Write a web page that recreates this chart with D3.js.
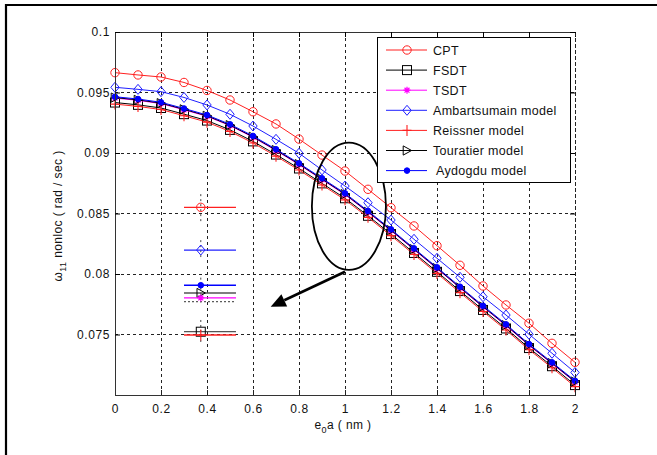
<!DOCTYPE html>
<meta charset="utf-8">
<style>
  body { margin: 0; background: white; }
  svg text { font-family: "Liberation Sans", Arial, sans-serif; fill: #111; }
</style>
<body>
<div id="chart"></div>
<script src="https://d3js.org/d3.v7.min.js"></script>
<script>
// nonlocal parameter e0a (nm)
const e0a = [0, 0.1, 0.2, 0.3, 0.4, 0.5, 0.6, 0.7, 0.8, 0.9, 1.0,
             1.1, 1.2, 1.3, 1.4, 1.5, 1.6, 1.7, 1.8, 1.9, 2.0];

// omega_11 nonloc (rad/sec)
const cpt  = [0.09664, 0.09645, 0.09628, 0.09583, 0.09517, 0.09438, 0.09341, 0.09240, 0.09115, 0.08983, 0.08851,
              0.08700, 0.08548, 0.08397, 0.08234, 0.08072, 0.07901, 0.07744, 0.07593, 0.07427, 0.07270];
const fsdt = [0.09417, 0.09398, 0.09372, 0.09321, 0.09268, 0.09191, 0.09096, 0.08987, 0.08872, 0.08749, 0.08626,
              0.08481, 0.08330, 0.08174, 0.08018, 0.07859, 0.07703, 0.07550, 0.07388, 0.07238, 0.07082];
const tsdt = [0.09454, 0.09435, 0.09408, 0.09357, 0.09303, 0.09226, 0.09130, 0.09020, 0.08904, 0.08780, 0.08656,
              0.08510, 0.08358, 0.08201, 0.08044, 0.07884, 0.07727, 0.07573, 0.07410, 0.07259, 0.07107];
const amb  = [0.09543, 0.09526, 0.09507, 0.09459, 0.09397, 0.09320, 0.09223, 0.09113, 0.08998, 0.08860, 0.08727,
              0.08589, 0.08446, 0.08287, 0.08130, 0.07973, 0.07812, 0.07661, 0.07502, 0.07345, 0.07186];
const reis = [0.09404, 0.09385, 0.09359, 0.09308, 0.09255, 0.09178, 0.09083, 0.08974, 0.08859, 0.08736, 0.08613,
              0.08468, 0.08317, 0.08161, 0.08005, 0.07846, 0.07690, 0.07537, 0.07375, 0.07225, 0.07069];
const tour = [0.09458, 0.09439, 0.09412, 0.09361, 0.09307, 0.09230, 0.09134, 0.09024, 0.08908, 0.08784, 0.08660,
              0.08514, 0.08362, 0.08205, 0.08048, 0.07888, 0.07731, 0.07577, 0.07414, 0.07263, 0.07111];
const ayd  = [0.09465, 0.09446, 0.09419, 0.09368, 0.09314, 0.09237, 0.09141, 0.09031, 0.08915, 0.08791, 0.08667,
              0.08521, 0.08369, 0.08212, 0.08055, 0.07895, 0.07738, 0.07584, 0.07421, 0.07270, 0.07118];

const xTicks = [0, 0.2, 0.4, 0.6, 0.8, 1, 1.2, 1.4, 1.6, 1.8, 2];
const yTicks = [0.075, 0.08, 0.085, 0.09, 0.095, 0.1];
const yGrid = [0.075, 0.08, 0.085, 0.09, 0.095];

// magnified view drawn at the left (schematic levels)
const insetKeys   = ["cpt", "amb", "ayd", "tour", "tsdt", "fsdt", "reis"];
const insetValues = [0.08551, 0.08198, 0.07907, 0.07843, 0.07802, 0.07523, 0.07496];
const insetSpan = [0.3, 0.526];
const insetMarkAt = 0.373;

const width = 657, height = 455;
const svg = d3.select("#chart").append("svg")
    .attr("width", width)
    .attr("height", height);

const x = d3.scaleLinear().domain([0, 2]).range([115, 575]);
const y = d3.scaleLinear().domain([0.07, 0.1]).range([395, 32]);

// outer frame (only left and top edges visible)
svg.append("path")
    .attr("d", `M6,${height} L6,5 L${width},5`)
    .attr("fill", "none")
    .attr("stroke", "#000")
    .attr("stroke-width", 2.2);

// grid
const grid = svg.append("g")
    .attr("stroke", "#222")
    .attr("stroke-dasharray", "3,3")
    .attr("shape-rendering", "crispEdges");
xTicks.filter(d => d > 0).forEach(function(d) {
    grid.append("line")
        .attr("x1", x(d)).attr("x2", x(d))
        .attr("y1", y(0.1)).attr("y2", y(0.07));
});
yGrid.forEach(function(d) {
    grid.append("line")
        .attr("x1", x(0)).attr("x2", x(2))
        .attr("y1", y(d)).attr("y2", y(d));
});

// marker painters
function drawMarker(g, kind, px, py, color) {
    if (kind == "circle") {
        g.append("circle").attr("cx", px).attr("cy", py).attr("r", 4.2)
            .attr("fill", "none").attr("stroke", color);
    } else if (kind == "square") {
        g.append("rect").attr("x", px - 4.5).attr("y", py - 4.5).attr("width", 9).attr("height", 9)
            .attr("fill", "none").attr("stroke", color);
    } else if (kind == "star") {
        const s = 3.5;
        g.append("path")
            .attr("d", `M${px-s},${py}L${px+s},${py}M${px},${py-s}L${px},${py+s}` +
                `M${px-s*0.7},${py-s*0.7}L${px+s*0.7},${py+s*0.7}M${px-s*0.7},${py+s*0.7}L${px+s*0.7},${py-s*0.7}`)
            .attr("stroke", color).attr("stroke-width", 1.2);
    } else if (kind == "diamond") {
        g.append("path")
            .attr("d", `M${px},${py-5}L${px+4.2},${py}L${px},${py+5}L${px-4.2},${py}Z`)
            .attr("fill", "none").attr("stroke", color);
    } else if (kind == "plus") {
        g.append("path")
            .attr("d", `M${px-4.5},${py}L${px+4.5},${py}M${px},${py-5.5}L${px},${py+5.5}`)
            .attr("stroke", color).attr("stroke-width", 1.1);
    } else if (kind == "tri") {
        g.append("path")
            .attr("d", `M${px-3.8},${py-4.6}L${px+4.6},${py}L${px-3.8},${py+4.6}Z`)
            .attr("fill", "none").attr("stroke", color);
    } else if (kind == "dot") {
        g.append("circle").attr("cx", px).attr("cy", py).attr("r", 2.8)
            .attr("fill", color).attr("stroke", color);
    }
}

const series = [
    {key: "cpt",  label: "CPT",                 values: cpt,  color: "#ff2020", marker: "circle"},
    {key: "fsdt", label: "FSDT",                values: fsdt, color: "#000000", marker: "square"},
    {key: "tsdt", label: "TSDT",                values: tsdt, color: "#ff00ff", marker: "star"},
    {key: "amb",  label: "Ambartsumain model",  values: amb,  color: "#2020ff", marker: "diamond"},
    {key: "reis", label: "Reissner model",      values: reis, color: "#ff2020", marker: "plus"},
    {key: "tour", label: "Touratier model",     values: tour, color: "#000000", marker: "tri"},
    {key: "ayd",  label: " Aydogdu model",      values: ayd,  color: "#0000ff", marker: "dot"}
];
const styleOf = {};
series.forEach(s => styleOf[s.key] = s);

const line = d3.line()
    .x(d => x(d[0]))
    .y(d => y(d[1]));

const plot = svg.append("g");
series.forEach(function(s) {
    const pts = e0a.map((v, i) => [v, s.values[i]]);
    plot.append("path")
        .attr("d", line(pts))
        .attr("fill", "none")
        .attr("stroke", s.color)
        .attr("stroke-width", 1);
    pts.forEach(p => drawMarker(plot, s.marker, x(p[0]), y(p[1]), s.color));
});

// magnified levels
const inset = svg.append("g");
const markX = x(insetMarkAt);
[[0.0866, 0.0843], [0.0828, 0.0814], [0.0797, 0.0776], [0.0762, 0.0743]].forEach(function(r) {
    inset.append("line")
        .attr("x1", markX).attr("x2", markX)
        .attr("y1", y(r[0])).attr("y2", y(r[1]))
        .attr("stroke", "#444")
        .attr("stroke-dasharray", "2,3");
});
inset.append("line")
    .attr("x1", x(insetSpan[0])).attr("x2", x(insetSpan[1]))
    .attr("y1", y(0.07771)).attr("y2", y(0.07771))
    .attr("stroke", "#333")
    .attr("stroke-dasharray", "2,2");
insetKeys.forEach(function(k, i) {
    const s = styleOf[k];
    const py = y(insetValues[i]);
    inset.append("line")
        .attr("x1", x(insetSpan[0])).attr("x2", x(insetSpan[1]))
        .attr("y1", py).attr("y2", py)
        .attr("stroke", s.color == "#000000" ? "#555" : s.color)
        .attr("stroke-width", 1.3);
    drawMarker(inset, s.marker, markX, py, s.color);
});

// ellipse and arrow
svg.append("ellipse")
    .attr("cx", x(1.017))
    .attr("cy", y(0.0856))
    .attr("rx", x(0.161) - x(0))
    .attr("ry", y(0.0856 - 0.005264) - y(0.0856))
    .attr("fill", "none")
    .attr("stroke", "#000")
    .attr("stroke-width", 1.8);

const a0 = [x(1.0), y(0.08019)], a1 = [x(0.677), y(0.0773)];
const ang = Math.atan2(a1[1] - a0[1], a1[0] - a0[0]);
const headLen = 15, headW = 6.8;
const bx = a1[0] - headLen * Math.cos(ang), by = a1[1] - headLen * Math.sin(ang);
svg.append("line")
    .attr("x1", a0[0]).attr("y1", a0[1])
    .attr("x2", bx).attr("y2", by)
    .attr("stroke", "#000")
    .attr("stroke-width", 2.6);
svg.append("path")
    .attr("d", `M${a1[0]},${a1[1]}` +
        `L${bx + headW * Math.sin(ang)},${by - headW * Math.cos(ang)}` +
        `L${bx - headW * Math.sin(ang)},${by + headW * Math.cos(ang)}Z`)
    .attr("fill", "#000");

// axes
const fmt = d => String(d);
const axisFont = g => g.selectAll("text")
    .attr("font-size", 12)
    .attr("letter-spacing", 0.6)
    .attr("fill", "#111");

svg.append("g")
    .attr("transform", `translate(0,${y(0.07)})`)
    .call(d3.axisBottom(x).tickValues(xTicks).tickFormat(fmt).tickSize(-5).tickSizeOuter(0).tickPadding(9))
    .call(axisFont)
    .call(g => g.select(".domain").attr("stroke", "#333"))
    .call(g => g.selectAll(".tick line").attr("stroke", "#222"));
svg.append("g")
    .attr("transform", `translate(0,${y(0.1)})`)
    .call(d3.axisTop(x).tickValues(xTicks).tickFormat("").tickSize(-5).tickSizeOuter(0))
    .call(g => g.select(".domain").attr("stroke", "#333"));
svg.append("g")
    .attr("transform", `translate(${x(0)},0)`)
    .call(d3.axisLeft(y).tickValues(yTicks).tickFormat(fmt).tickSize(-5).tickSizeOuter(0).tickPadding(5))
    .call(axisFont)
    .call(g => g.select(".domain").attr("stroke", "#333"));
svg.append("g")
    .attr("transform", `translate(${x(2)},0)`)
    .call(d3.axisRight(y).tickValues(yTicks).tickFormat("").tickSize(-5).tickSizeOuter(0))
    .call(g => g.select(".domain").attr("stroke", "#222").attr("stroke-dasharray", "3,3"));
svg.selectAll(".domain").attr("shape-rendering", "crispEdges");

// axis titles
const xt = svg.append("text")
    .attr("x", 343).attr("y", 429)
    .attr("text-anchor", "middle")
    .attr("font-size", 12)
    .attr("letter-spacing", 0.4);
xt.append("tspan").text("e");
xt.append("tspan").attr("dy", 4).attr("font-size", 9).text("0");
xt.append("tspan").attr("dy", -4).text("a ( nm )");

const yt = svg.append("text")
    .attr("transform", "translate(62,216) rotate(-90)")
    .attr("text-anchor", "middle")
    .attr("font-size", 12)
    .attr("letter-spacing", 0.4);
yt.append("tspan").text("\u03c9");
yt.append("tspan").attr("dy", 4).attr("font-size", 9).text("11");
yt.append("tspan").attr("dy", -4).text(" nonloc ( rad / sec )");

// legend
const lg = svg.append("g");
lg.append("rect")
    .attr("x", 377.5).attr("y", 37.5)
    .attr("width", 193).attr("height", 145)
    .attr("fill", "white")
    .attr("stroke", "#000");
series.forEach(function(s, i) {
    const ly = 50 + i * 20.1;
    lg.append("line")
        .attr("x1", 386).attr("x2", 427)
        .attr("y1", ly).attr("y2", ly)
        .attr("stroke", s.color);
    drawMarker(lg, s.marker, 407, ly, s.color);
    lg.append("text")
        .attr("x", 433).attr("y", ly + 4.5)
        .attr("font-size", 12.5)
        .attr("letter-spacing", 0.3)
        .attr("xml:space", "preserve")
        .style("white-space", "pre")
        .text(s.label);
});
</script>
</body>
